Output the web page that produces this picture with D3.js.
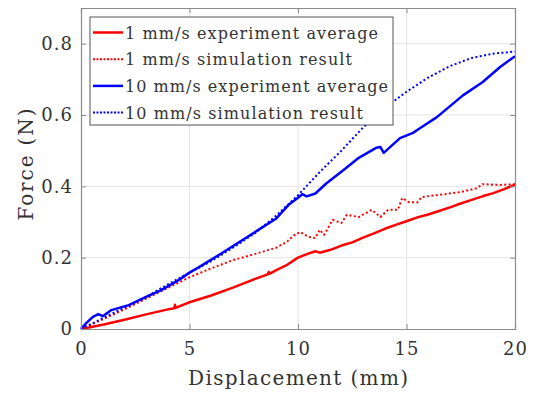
<!DOCTYPE html>
<html>
<head>
<meta charset="utf-8">
<script src="https://cdn.jsdelivr.net/npm/d3@7"></script>
<style>
  body { margin: 0; background: #fff; }
  svg text { font-family: "DejaVu Serif", serif; }
</style>
</head>
<body>
<script>
// series values (displacement mm, force N)
let expSlowX = [0, 1, 2, 3, 4, 4.3, 4.33, 4.36, 5, 6, 7, 8, 8.6, 8.65, 8.7, 9, 9.5, 10, 10.5, 10.8, 11, 11.5, 12, 12.5, 13, 13.5, 14, 14.5, 15, 15.5, 16, 16.5, 17, 17.5, 18, 18.5, 19, 19.5, 20];
let expSlowY = [0, 0.012, 0.026, 0.041, 0.055, 0.058, 0.068, 0.059, 0.075, 0.094, 0.116, 0.14, 0.153, 0.16, 0.155, 0.165, 0.18, 0.2, 0.212, 0.218, 0.214, 0.222, 0.234, 0.243, 0.256, 0.268, 0.281, 0.292, 0.302, 0.313, 0.321, 0.331, 0.341, 0.352, 0.362, 0.372, 0.381, 0.392, 0.405];

let simSlowX = [0, 1, 2, 3, 4, 5, 6, 7, 8, 9, 9.5, 9.8, 10.1, 10.5, 10.8, 11, 11.2, 11.6, 12, 12.25, 12.8, 13.4, 13.8, 14.15, 14.6, 14.8, 15.1, 15.5, 15.7, 16.5, 17.5, 18.25, 18.5, 19.3, 20];
let simSlowY = [0, 0.027, 0.055, 0.085, 0.115, 0.145, 0.17, 0.193, 0.21, 0.228, 0.245, 0.262, 0.272, 0.258, 0.255, 0.278, 0.264, 0.306, 0.297, 0.32, 0.314, 0.334, 0.314, 0.334, 0.334, 0.367, 0.356, 0.355, 0.37, 0.376, 0.384, 0.395, 0.406, 0.404, 0.406];

let expFastX = [0, 0.25, 0.55, 0.8, 1, 1.4, 2.2, 3, 3.7, 4.5, 5, 5.4, 6.5, 8.1, 9, 9.6, 10, 10.2, 10.4, 10.8, 11.3, 12.1, 12.8, 13.6, 13.8, 13.95, 14.7, 15.3, 15.6, 16.4, 17.6, 18.5, 19.3, 20];
let expFastY = [0, 0.017, 0.034, 0.042, 0.036, 0.053, 0.067, 0.09, 0.109, 0.137, 0.158, 0.172, 0.213, 0.275, 0.31, 0.35, 0.368, 0.378, 0.372, 0.38, 0.408, 0.446, 0.48, 0.508, 0.51, 0.494, 0.535, 0.55, 0.562, 0.594, 0.655, 0.692, 0.734, 0.765];

let simFastX = [0, 1, 2, 3, 4, 5, 6, 7, 8, 9, 10, 11, 12, 13, 14, 15, 16, 17, 18, 19, 20];
let simFastY = [0, 0.03, 0.06, 0.09, 0.125, 0.158, 0.19, 0.228, 0.268, 0.318, 0.375, 0.44, 0.5, 0.565, 0.62, 0.665, 0.705, 0.737, 0.76, 0.772, 0.778];

let legendLabels = ["1 mm/s experiment average", "1 mm/s simulation result", "10 mm/s experiment average", "10 mm/s simulation result"];
let legendWidths = [253, 227, 263, 238];
let xTicks = [0, 5, 10, 15, 20];
let yTicks = [0, 0.2, 0.4, 0.6, 0.8];

let series = [
  {x: expSlowX, y: expSlowY, color: "#ff0000", dotted: false},
  {x: simSlowX, y: simSlowY, color: "#ff0000", dotted: true},
  {x: expFastX, y: expFastY, color: "#0000ff", dotted: false},
  {x: simFastX, y: simFastY, color: "#0000ff", dotted: true}
];

let margin = {top: 8, right: 22, bottom: 74, left: 81},
    width = 537 - margin.left - margin.right,
    height = 403 - margin.top - margin.bottom;

let x = d3.scaleLinear().domain([0, 20]).range([0, width]);
let y = d3.scaleLinear().domain([0, 0.9]).range([height, 0]);

let svg = d3.select("body").append("svg")
    .attr("width", 537)
    .attr("height", 403)
  .append("g")
    .attr("transform", "translate(" + margin.left + "," + margin.top + ")");

  // grid
svg.append("g")
    .selectAll("line")
    .data(xTicks.slice(1, -1))
    .enter().append("line")
    .attr("x1", d => x(d)).attr("x2", d => x(d))
    .attr("y1", 0).attr("y2", height)
    .attr("stroke", "#e5e5e5").attr("stroke-width", 1);
svg.append("g")
    .selectAll("line")
    .data(yTicks.slice(1))
    .enter().append("line")
    .attr("x1", 0).attr("x2", width)
    .attr("y1", d => y(d)).attr("y2", d => y(d))
    .attr("stroke", "#e5e5e5").attr("stroke-width", 1);

  // curves
let line = d3.line()
    .x(d => x(d[0]))
    .y(d => y(d[1]));

series.forEach(s => {
    let pts = s.x.map((v, i) => [v, s.y[i]]);
    svg.append("path")
        .datum(pts)
        .attr("fill", "none")
        .attr("stroke", s.color)
        .attr("stroke-width", s.dotted ? 2 : 2.5)
        .attr("stroke-dasharray", s.dotted ? "2,2.4" : null)
        .attr("stroke-linejoin", "round")
        .attr("d", line);
});

  // axes with inward ticks, boxed
let axisColor = "#8c8c8c";

let xAxis = d3.axisBottom(x).tickValues(xTicks).tickSize(-5).tickPadding(13).tickFormat(d3.format("d"));
let yAxis = d3.axisLeft(y).tickValues(yTicks).tickSize(-5).tickPadding(8).tickFormat(d => d === 0 ? "0" : d3.format(".1f")(d));

let gx = svg.append("g")
    .attr("transform", "translate(0," + height + ")")
    .call(xAxis);
let gy = svg.append("g").call(yAxis);
let gxTop = svg.append("g").call(d3.axisTop(x).tickValues(xTicks).tickSize(-5).tickFormat(""));
let gyRight = svg.append("g")
    .attr("transform", "translate(" + width + ",0)")
    .call(d3.axisRight(y).tickValues(yTicks).tickSize(-5).tickFormat(""));

[gx, gy, gxTop, gyRight].forEach(g => {
    g.select(".domain").attr("stroke", axisColor).attr("stroke-width", 1.2);
    g.selectAll(".tick line").attr("stroke", axisColor);
    g.selectAll(".tick text")
        .attr("fill", "#333")
        .style("font-size", "18px")
        .style("letter-spacing", "1px");
});

  // axis titles
svg.append("text")
    .attr("x", width / 2)
    .attr("y", height + 56)
    .attr("text-anchor", "middle")
    .attr("fill", "#333")
    .attr("textLength", 220)
    .attr("lengthAdjust", "spacing")
    .style("font-size", "20px")
    .text("Displacement (mm)");

svg.append("text")
    .attr("transform", "rotate(-90)")
    .attr("x", -height / 2 + 4)
    .attr("y", -48)
    .attr("text-anchor", "middle")
    .attr("fill", "#333")
    .attr("textLength", 112)
    .attr("lengthAdjust", "spacing")
    .style("font-size", "20px")
    .text("Force (N)");

  // legend
let legend = svg.append("g")
    .attr("transform", "translate(9,9)");

legend.append("rect")
    .attr("width", 303)
    .attr("height", 108)
    .attr("fill", "#fff")
    .attr("stroke", "#555")
    .attr("stroke-width", 1);

let rowH = 26.7;
legendLabels.forEach((label, i) => {
    let s = series[i];
    let cy = 15.5 + i * rowH;
    legend.append("line")
        .attr("x1", 3).attr("x2", 33)
        .attr("y1", cy).attr("y2", cy)
        .attr("stroke", s.color)
        .attr("stroke-width", s.dotted ? 2 : 2.5)
        .attr("stroke-dasharray", s.dotted ? "2,1.5" : null);
    legend.append("text")
        .attr("x", 35)
        .attr("y", cy + 6)
        .attr("fill", "#333")
        .attr("textLength", legendWidths[i])
        .attr("lengthAdjust", "spacing")
        .style("font-size", "16px")
        .text(label);
});
</script>
</body>
</html>
